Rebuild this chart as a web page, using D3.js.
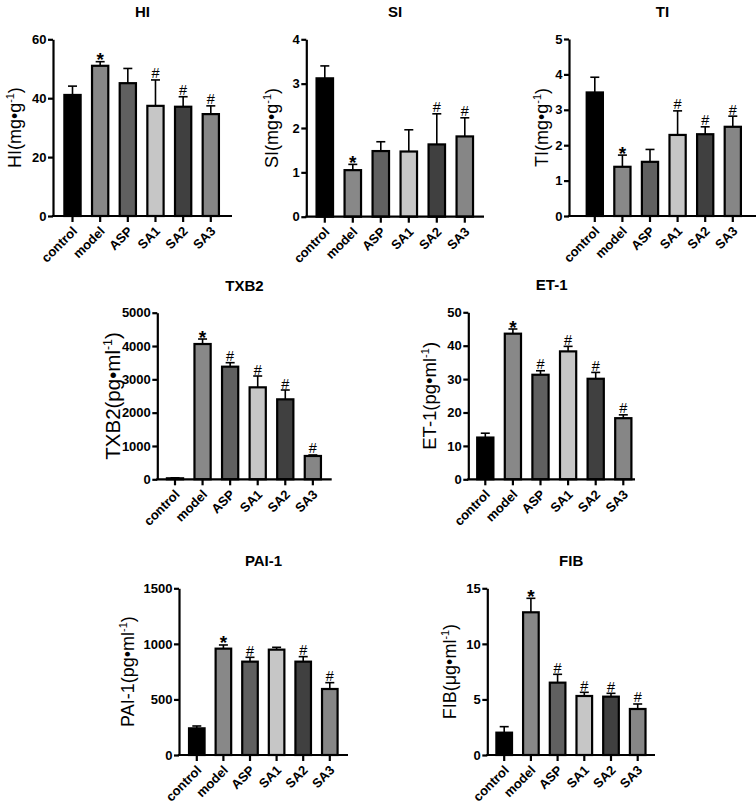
<!DOCTYPE html>
<html>
<head>
<meta charset="utf-8">
<script src="https://cdn.jsdelivr.net/npm/d3@7"></script>
<style>
  html, body { margin: 0; padding: 0; background: #fff; }
  svg { display: block; font-family: "Liberation Sans", Arial, Helvetica, sans-serif; }
</style>
</head>
<body>
<svg id="chart" width="756" height="804"></svg>
<script>
// ---- data ----
const categories = ["control", "model", "ASP", "SA1", "SA2", "SA3"];
const barColors = ["#000000", "#888888", "#606060", "#c6c6c6", "#404040", "#868686"];

const hiMeans = [41.1, 51.0, 45.1, 37.4, 37.1, 34.6];
const hiErr   = [3.0, 1.4, 5.0, 8.8, 3.4, 2.8];
const hiMarks = ["", "*", "", "#", "#", "#"];

const siMeans = [3.12, 1.05, 1.48, 1.47, 1.63, 1.81];
const siErr   = [0.28, 0.13, 0.21, 0.49, 0.69, 0.42];
const siMarks = ["", "*", "", "", "#", "#"];

const tiMeans = [3.49, 1.39, 1.53, 2.29, 2.31, 2.52];
const tiErr   = [0.43, 0.33, 0.35, 0.68, 0.21, 0.30];
const tiMarks = ["", "*", "", "#", "#", "#"];

const txb2Means = [30, 4060, 3380, 2760, 2400, 700];
const txb2Err   = [15, 150, 120, 340, 280, 30];
const txb2Marks = ["", "*", "#", "#", "#", "#"];

const et1Means = [12.5, 43.6, 31.3, 38.3, 30.1, 18.3];
const et1Err   = [1.3, 1.4, 1.2, 1.5, 1.9, 1.0];
const et1Marks = ["", "*", "#", "#", "#", "#"];

const paiMeans = [240, 957, 840, 948, 840, 594];
const paiErr   = [21, 33, 39, 21, 45, 57];
const paiMarks = ["", "*", "#", "", "#", "#"];

const fibMeans = [2.01, 12.84, 6.51, 5.31, 5.25, 4.14];
const fibErr   = [0.54, 1.26, 0.75, 0.33, 0.30, 0.45];
const fibMarks = ["", "*", "#", "#", "#", "#"];

const hiTicks = [0, 20, 40, 60];
const siTicks = [0, 1, 2, 3, 4];
const tiTicks = [0, 1, 2, 3, 4, 5];
const txb2Ticks = [0, 1000, 2000, 3000, 4000, 5000];
const et1Ticks = [0, 10, 20, 30, 40, 50];
const paiTicks = [0, 500, 1000, 1500];
const fibTicks = [0, 5, 10, 15];

// ---- panel layout ----
const panels = [
  {title: "HI", yl: ["HI(mg•g", "-1", ")"], means: hiMeans, err: hiErr, marks: hiMarks, ticks: hiTicks,
   ax: 53, axEnd: 232, yTop: 39.3, yBot: 216, c0: 72.5, step: 27.66, lblOff: 38, lblSize: 18},
  {title: "SI", yl: ["SI(mg•g", "-1", ")"], means: siMeans, err: siErr, marks: siMarks, ticks: siTicks,
   ax: 306.3, axEnd: 484, yTop: 39.3, yBot: 216.7, c0: 324.8, step: 28, lblOff: 34, lblSize: 18},
  {title: "TI", yl: ["TI(mg•g", "-1", ")"], means: tiMeans, err: tiErr, marks: tiMarks, ticks: tiTicks,
   ax: 569, axEnd: 756, yTop: 39, yBot: 216, c0: 594.8, step: 27.6, lblOff: 27, lblSize: 18},
  {title: "TXB2", yl: ["TXB2(pg•ml", "-1", ")"], means: txb2Means, err: txb2Err, marks: txb2Marks, ticks: txb2Ticks,
   ax: 157.3, axEnd: 331.7, yTop: 312.7, yBot: 479.3, c0: 175, step: 27.57, lblOff: 44, lblSize: 20.5},
  {title: "ET-1", yl: ["ET-1(pg•ml", "-1", ")"], means: et1Means, err: et1Err, marks: et1Marks, ticks: et1Ticks,
   ax: 468.3, axEnd: 635, yTop: 312.3, yBot: 479.3, c0: 485.3, step: 27.6, lblOff: 38, lblSize: 18.5},
  {title: "PAI-1", yl: ["PAI-1(pg•ml", "-1", ")"], means: paiMeans, err: paiErr, marks: paiMarks, ticks: paiTicks,
   ax: 179, axEnd: 348, yTop: 588.3, yBot: 755, c0: 196.8, step: 26.6, lblOff: 51, lblSize: 18},
  {title: "FIB", yl: ["FIB(μg•ml", "-1", ")"], means: fibMeans, err: fibErr, marks: fibMarks, ticks: fibTicks,
   ax: 487.3, axEnd: 655, yTop: 588.3, yBot: 755, c0: 504.2, step: 26.7, lblOff: 37, lblSize: 18}
];

const svg = d3.select("#chart");

panels.forEach(p => {
  const g = svg.append("g");
  const pi = 0.34;
  const x = d3.scaleBand()
    .domain(categories)
    .range([p.c0 - p.step / 2, p.c0 + 5.5 * p.step])
    .paddingInner(pi).paddingOuter(pi / 2);
  const y = d3.scaleLinear()
    .domain([0, p.ticks[p.ticks.length - 1]])
    .range([p.yBot, p.yTop]);

  const data = categories.map((c, i) => ({c, v: p.means[i], e: p.err[i], m: p.marks[i], col: barColors[i]}));

  // bars
  g.selectAll("rect.bar").data(data).enter().append("rect")
    .attr("class", "bar")
    .attr("x", d => x(d.c) + 1)
    .attr("width", x.bandwidth() - 2)
    .attr("y", d => y(d.v))
    .attr("height", d => Math.max(0, y(0) - y(d.v)))
    .attr("fill", d => d.col)
    .attr("stroke", "#000")
    .attr("stroke-width", 2.2);

  // error bars (upper)
  const capW = 4.5;
  g.selectAll("line.err").data(data).enter().append("line")
    .attr("x1", d => x(d.c) + x.bandwidth() / 2)
    .attr("x2", d => x(d.c) + x.bandwidth() / 2)
    .attr("y1", d => y(d.v))
    .attr("y2", d => y(d.v + d.e))
    .attr("stroke", "#000").attr("stroke-width", 1.6);
  g.selectAll("line.cap").data(data).enter().append("line")
    .attr("x1", d => x(d.c) + x.bandwidth() / 2 - capW)
    .attr("x2", d => x(d.c) + x.bandwidth() / 2 + capW)
    .attr("y1", d => y(d.v + d.e))
    .attr("y2", d => y(d.v + d.e))
    .attr("stroke", "#000").attr("stroke-width", 1.6);

  // significance marks
  g.selectAll("text.mark").data(data.filter(d => d.m)).enter().append("text")
    .attr("x", d => x(d.c) + x.bandwidth() / 2)
    .attr("y", d => y(d.v + d.e) + (d.m === "*" ? 4.5 : -1.5))
    .attr("text-anchor", "middle")
    .attr("font-size", d => d.m === "*" ? 19 : 14.5)
    .attr("font-weight", d => d.m === "*" ? "bold" : "normal")
    .attr("fill", "#000")
    .text(d => d.m);

  // y axis
  const yAxis = g.append("g")
    .attr("transform", `translate(${p.ax},0)`)
    .call(d3.axisLeft(y).tickValues(p.ticks).tickFormat(d3.format("d"))
      .tickSize(5).tickSizeOuter(0).tickPadding(1.5));
  yAxis.select(".domain").attr("stroke-width", 2.2);
  yAxis.selectAll(".tick line").attr("stroke-width", 2.2);
  yAxis.selectAll(".tick text")
    .attr("font-size", 13).attr("font-weight", "bold")
    .attr("font-family", "'Liberation Sans', Arial, sans-serif").attr("fill", "#000");

  // x axis
  const xAxis = g.append("g")
    .attr("transform", `translate(0,${p.yBot})`)
    .call(d3.axisBottom(x).tickSize(6).tickSizeOuter(0));
  xAxis.select(".domain").remove();
  xAxis.selectAll(".tick line").attr("stroke-width", 2.2);
  xAxis.selectAll(".tick text")
    .attr("font-size", 13).attr("font-weight", "bold")
    .attr("font-family", "'Liberation Sans', Arial, sans-serif").attr("fill", "#000")
    .attr("text-anchor", "end")
    .attr("x", 0).attr("y", 0).attr("dy", 0)
    .attr("transform", "translate(5.5,16) rotate(-45)");
  g.append("line")
    .attr("x1", p.ax - 1.1).attr("x2", p.axEnd)
    .attr("y1", p.yBot).attr("y2", p.yBot)
    .attr("stroke", "#000").attr("stroke-width", 2.2);

  // title
  g.append("text")
    .attr("x", (p.ax + p.axEnd) / 2)
    .attr("y", p.yTop - 22)
    .attr("text-anchor", "middle")
    .attr("font-size", 15).attr("font-weight", "bold")
    .text(p.title);

  // y label
  const yl = g.append("text")
    .attr("transform", `translate(${p.ax - p.lblOff + p.lblSize / 3},${(p.yTop + p.yBot) / 2}) rotate(-90)`)
    .attr("text-anchor", "middle")
    .attr("font-size", p.lblSize);
  yl.append("tspan").text(p.yl[0]);
  yl.append("tspan").attr("font-size", p.lblSize * 0.6).attr("dy", -p.lblSize * 0.4).text(p.yl[1]);
  yl.append("tspan").attr("dy", p.lblSize * 0.4).text(p.yl[2]);
});
</script>
</body>
</html>
